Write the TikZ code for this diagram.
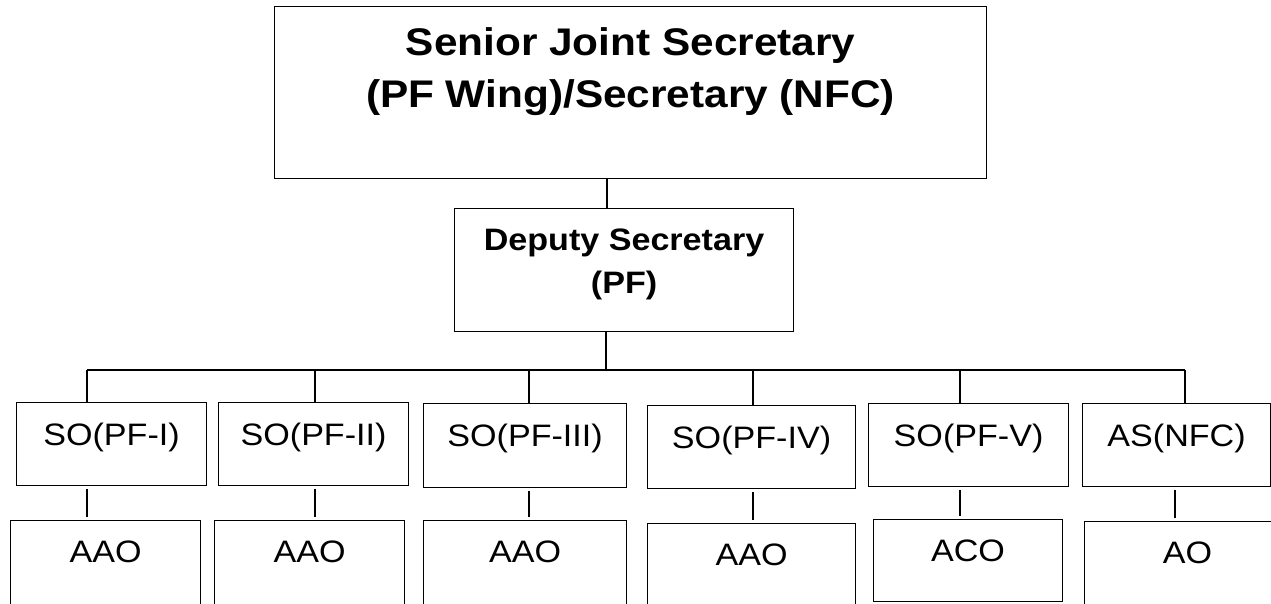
\documentclass[tikz,border=0pt]{standalone}
\usepackage{fontspec}
\setmainfont{Liberation Sans}[FakeStretch=1.1]
\usetikzlibrary{calc}
\begin{document}
\begin{tikzpicture}[x=1pt,y=-1pt,
  line width=1.1pt,
  box/.style={draw, rectangle, inner sep=0pt, anchor=north west},
  lbl/.style={anchor=base, inner sep=0pt, font=\fontsize{31}{37}\selectfont},
  head/.style={anchor=base, inner sep=0pt, font=\fontsize{31}{37}\selectfont\bfseries},
  chief/.style={anchor=base, inner sep=0pt, font=\fontsize{38.5}{46}\selectfont\bfseries},
  link/.style={draw, line width=1.1pt},
  gap/.style={shorten >=3pt, shorten <=3pt}]
\useasboundingbox (0,0) rectangle (1271,603);
\clip (0,0) rectangle (1271,603);

% top two levels
\node[box, minimum width=712pt, minimum height=172pt] (top) at (274,6) {};
\node[chief] (topa) at ($(top.north)+(0,49)$) {Senior Joint Secretary};
\node[chief] (topb) at ($(top.north)+(0,101)$) {(PF Wing)/Secretary (NFC)};

\node[box, minimum width=339pt, minimum height=123pt] (dep) at (454,208) {};
\node[head] (depa) at ($(dep.north)+(0,42)$) {Deputy Secretary};
\node[head] (depb) at ($(dep.north)+(0,85)$) {(PF)};

% section officers
\node[box, minimum width=190pt, minimum height=83pt] (s1) at (16,402) {};
\node[box, minimum width=190pt, minimum height=83pt] (s2) at (218,402) {};
\node[box, minimum width=203pt, minimum height=84pt] (s3) at (423,403) {};
\node[box, minimum width=208pt, minimum height=83pt] (s4) at (647,405) {};
\node[box, minimum width=200pt, minimum height=83pt] (s5) at (868,403) {};
\node[box, minimum width=188pt, minimum height=83pt] (s6) at (1082,403) {};
\foreach \n/\t in {s1/SO(PF-I), s2/SO(PF-II), s3/SO(PF-III), s4/SO(PF-IV), s5/SO(PF-V), s6/AS(NFC)}
  \node[lbl] (\n t) at ($(\n.north)+(0,43)$) {\t};

% assistants
\node[box, minimum width=190pt, minimum height=100pt] (a1) at (10,520) {};
\node[box, minimum width=190pt, minimum height=100pt] (a2) at (214,520) {};
\node[box, minimum width=203pt, minimum height=100pt] (a3) at (423,520) {};
\node[box, minimum width=208pt, minimum height=100pt] (a4) at (647,523) {};
\node[box, minimum width=189pt, minimum height=82pt] (a5) at (873,519) {};
\node[box, minimum width=206pt, minimum height=100pt] (a6) at (1084,521) {};
\foreach \n/\t in {a1/AAO, a2/AAO, a3/AAO, a4/AAO, a5/ACO, a6/AO}
  \node[lbl] (\n t) at ($(\n.north)+(0,42)$) {\t};

% connectors
\coordinate (up) at (607,0);
\coordinate (dn) at (606,0);
\draw[link] (top.south -| up) -- (dep.north -| up);
\coordinate (busl) at (87,370);
\coordinate (busr) at (1185,370);
\draw[link] (busl) -- (busr);
\draw[link] (dep.south -| dn) -- (busl -| dn);
\foreach \n/\x in {s1/87, s2/315, s3/529, s4/753, s5/960, s6/1185}{
  \coordinate (c\n) at (\x,0);
  \draw[link] (busl -| c\n) -- (\n.north -| c\n);
}
\foreach \s/\a/\x in {s1/a1/87, s2/a2/315, s3/a3/529, s4/a4/753, s5/a5/960, s6/a6/1175}{
  \coordinate (d\s) at (\x,0);
  \draw[link, gap] (\s.south -| d\s) -- (\a.north -| d\s);
}
\end{tikzpicture}
\end{document}
